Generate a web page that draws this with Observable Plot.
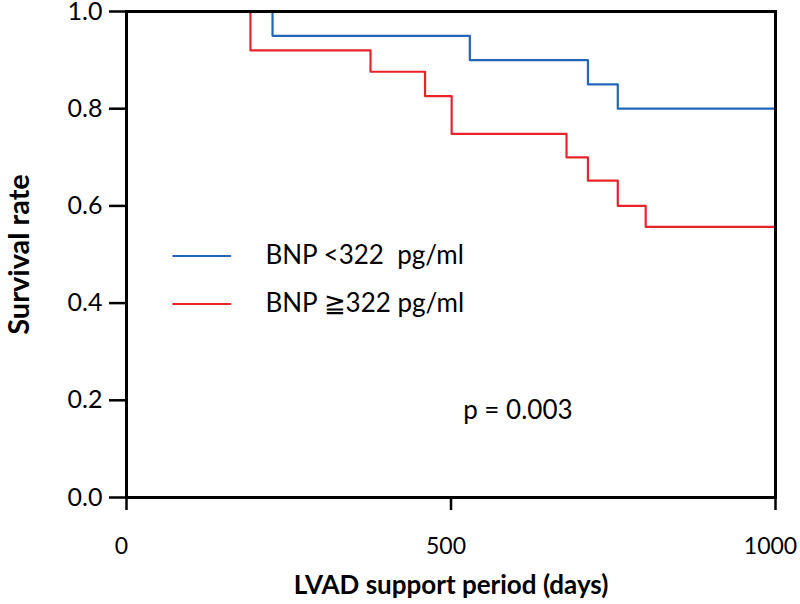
<!DOCTYPE html>
<html>
<head>
<meta charset="utf-8">
<script src="https://cdn.jsdelivr.net/npm/d3@7"></script>
<script src="https://cdn.jsdelivr.net/npm/@observablehq/plot@0.6"></script>
<style>
  html, body { margin: 0; padding: 0; background: #fff; }
  #chart svg { display: block; }
</style>
</head>
<body>
<div id="chart"></div>
<script>
// Kaplan–Meier step data (days, survival)
const lowDays  = [0, 225, 529, 711, 757, 1000];
const lowSurv  = [1.0, 0.95, 0.90, 0.85, 0.80, 0.80];
const highDays = [0, 191, 376, 460, 501, 678, 711, 757, 800, 1000];
const highSurv = [1.0, 0.92, 0.876, 0.826, 0.748, 0.70, 0.652, 0.60, 0.557, 0.557];

const xTicks = [0, 500, 1000];
const yTicks = [0.0, 0.2, 0.4, 0.6, 0.8, 1.0];

const legendLabels = ["BNP <322  pg/ml", "BNP \u2267322 pg/ml"];
const legendColors = ["#2166b8", "#e8232a"];
const legendY = [0.497, 0.398];
const legendLineX = [72, 160];
const legendTextX = 214;
const pLabel = "p = 0.003";
const pPos = [603, 0.179];

const low = lowDays.map((d, i) => ({day: d, s: lowSurv[i]}));
const high = highDays.map((d, i) => ({day: d, s: highSurv[i]}));
const legendLines = legendLabels.flatMap((l, i) => legendLineX.map(x => ({x, y: legendY[i], g: i})));
const legendText = legendLabels.map((l, i) => ({x: legendTextX, y: legendY[i], label: l}));

const font = "Lato, 'Open Sans', sans-serif";

const chart = Plot.plot({
  width: 800,
  height: 604,
  marginLeft: 126,
  marginRight: 25,
  marginTop: 11,
  marginBottom: 107,
  style: {fontFamily: font, fontSize: "24px", color: "#000", background: "#fff"},
  x: {domain: [0, 1000], ticks: xTicks},
  y: {domain: [0, 1], ticks: yTicks},
  marks: [
    Plot.line(high, {x: "day", y: "s", curve: "step-after", stroke: legendColors[1], strokeWidth: 2.2}),
    Plot.line(low, {x: "day", y: "s", curve: "step-after", stroke: legendColors[0], strokeWidth: 2.2}),
    Plot.frame({stroke: "#000", strokeWidth: 3}),
    Plot.axisX({ticks: xTicks, tickSize: 13, tickFormat: () => "",
      stroke: "#000", strokeWidth: 2.5, label: null}),
    Plot.axisX({ticks: xTicks, tickSize: 0, tickPadding: 40, tickFormat: d3.format("d"),
      fontSize: 23, dx: -5, label: null}),
    Plot.axisY({ticks: yTicks, tickSize: 17, tickPadding: 7, tickFormat: d3.format(".1f"),
      stroke: "#000", strokeWidth: 2.5, fontSize: 25, label: null}),
    Plot.line(legendLines, {x: "x", y: "y", z: "g", stroke: d => legendColors[d.g], strokeWidth: 2}),
    Plot.text(legendText, {x: "x", y: "y", text: "label", textAnchor: "start", fontSize: 26, fill: "#000"}),
    Plot.text([pLabel], {x: pPos[0], y: pPos[1], text: d => d, fontSize: 26, fill: "#000"}),
    Plot.text(["LVAD support period (days)"], {frameAnchor: "bottom", dy: 96, textAnchor: "middle", text: d => d,
      fontSize: 26, fontWeight: "bold", fill: "#000"}),
    Plot.text(["Survival rate"], {frameAnchor: "left", dx: -107, textAnchor: "middle", rotate: -90, text: d => d,
      fontSize: 29, fontWeight: "bold", fill: "#000"})
  ]
});
document.getElementById("chart").appendChild(chart);
</script>
</body>
</html>
